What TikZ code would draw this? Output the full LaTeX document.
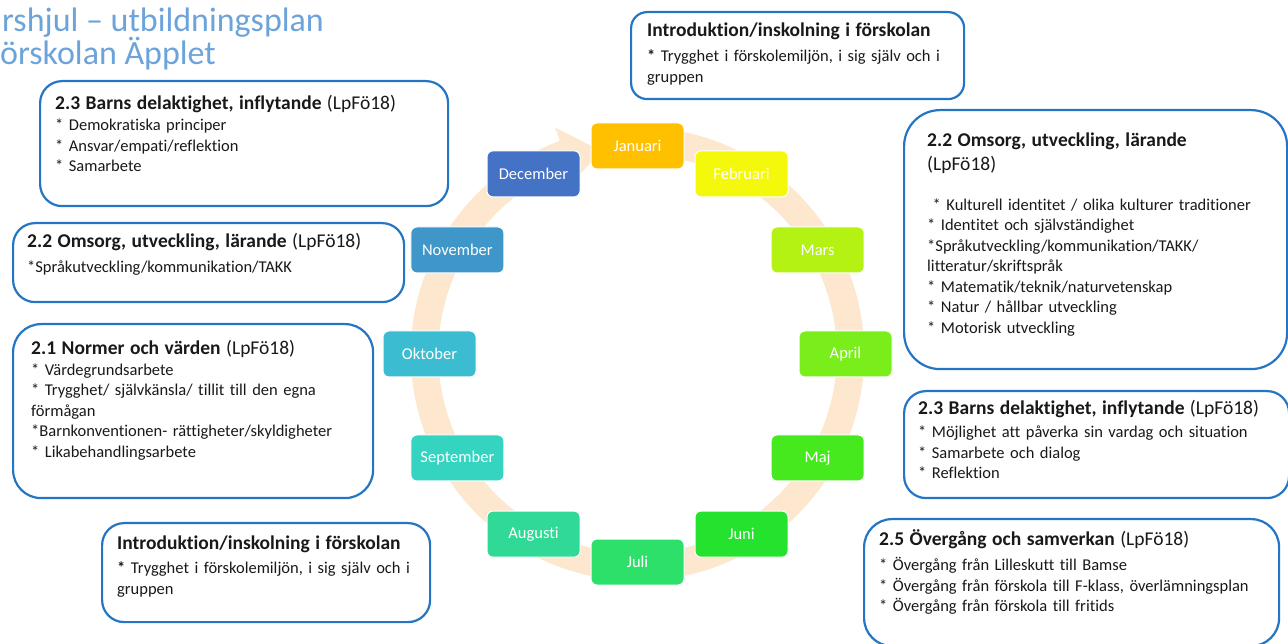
\documentclass[tikz,border=0pt]{standalone}
\usepackage{fontspec}
\setmainfont{Carlito}[Ligatures=NoCommon]
\definecolor{ringc}{RGB}{253,231,206}
\definecolor{boxc}{RGB}{36,118,196}
\definecolor{headc}{RGB}{108,163,218}
\definecolor{janc}{RGB}{255,192,0}
\definecolor{febc}{RGB}{244,248,10}
\definecolor{marc}{RGB}{180,242,20}
\definecolor{aprc}{RGB}{122,238,26}
\definecolor{majc}{RGB}{70,232,30}
\definecolor{junc}{RGB}{36,226,46}
\definecolor{julc}{RGB}{44,224,106}
\definecolor{augc}{RGB}{48,218,150}
\definecolor{sepc}{RGB}{52,212,192}
\definecolor{oktc}{RGB}{59,188,208}
\definecolor{novc}{RGB}{63,150,200}
\definecolor{decc}{RGB}{68,114,196}
\newcommand{\bodyfont}{\fontsize{16.5}{20.5}\selectfont}
\newcommand{\headfont}{\fontsize{19.5}{20.5}\selectfont}

\begin{document}
\begin{tikzpicture}[x=1pt,y=1pt,
  month/.style={draw=white, line width=1pt, rounded corners=6pt, minimum width=93pt,
    minimum height=46pt, text=white, font=\fontsize{16.5}{18}\selectfont, inner sep=0pt},
  infobox/.style={draw=boxc, line width=2.2pt, fill=white, rounded corners=22pt,
    anchor=north west, inner sep=0pt},
  infotext/.style={anchor=base west, align=left, text width=400pt, inner sep=0pt,
    font=\bodyfont, text=black!90}]
\clip (0,0) rectangle (1288,643);

% heading, cut at the left edge
\node [anchor=base west, inner sep=0pt, text=headc, font=\fontsize{34}{36}\selectfont] (titleA) at (2,611) {rshjul -- utbildningsplan};
\node [anchor=base west, inner sep=0pt, text=headc, font=\fontsize{34}{36}\selectfont] (titleB) at (0,578) {örskolan Äpplet};

% the year wheel
\coordinate (hub) at (637.5,289);
\draw [ringc, line width=27.5pt] ([shift={(92:213)}]hub) arc [start angle=92, end angle=-250, radius=213];
\fill [ringc] ([shift={(110:185)}]hub) -- ([shift={(110:241)}]hub) -- ([shift={(100:206)}]hub) -- cycle;

\node [month, fill=janc] (jan) at ([shift={(90:208)}]hub) {Januari};
\node [month, fill=febc] (feb) at ([shift={(60:208)}]hub) {Februari};
\node [month, fill=marc] (mar) at ([shift={(30:208)}]hub) {Mars};
\node [month, fill=aprc] (apr) at ([shift={(0:208)}]hub) {April};
\node [month, fill=majc] (maj) at ([shift={(-30:208)}]hub) {Maj};
\node [month, fill=junc] (jun) at ([shift={(-60:208)}]hub) {Juni};
\node [month, fill=julc] (jul) at ([shift={(-90:208)}]hub) {Juli};
\node [month, fill=augc] (aug) at ([shift={(-120:208)}]hub) {Augusti};
\node [month, fill=sepc] (sep) at ([shift={(-150:208)}]hub) {September};
\node [month, fill=oktc] (okt) at ([shift={(180:208)}]hub) {Oktober};
\node [month, fill=novc] (nov) at ([shift={(150:208)}]hub) {November};
\node [month, fill=decc] (dec) at ([shift={(120:208)}]hub) {December};

% boxes round the wheel
\node [infobox, minimum width=408pt, minimum height=125pt] (delaktighetA) at (39,563) {};
\node [infobox, minimum width=391pt, minimum height=79pt] (omsorgA) at (12,421) {};
\node [infobox, minimum width=360pt, minimum height=174pt, rounded corners=28pt] (normer) at (12,320) {};
\node [infobox, minimum width=328pt, minimum height=99pt] (introA) at (101,121) {};
\node [infobox, minimum width=333pt, minimum height=87pt, rounded corners=16pt] (introB) at (630,632) {};
\node [infobox, minimum width=383pt, minimum height=259pt, rounded corners=36pt] (omsorgB) at (903,534) {};
\node [infobox, minimum width=385pt, minimum height=107pt] (delaktighetB) at (903,253) {};
\node [infobox, minimum width=415pt, minimum height=127pt, rounded corners=28pt] (overgang) at (863,125) {};

\node [infotext] (delaktighetAtext) at (55,533) {{\headfont\textbf{2.3 Barns delaktighet, inflytande} (LpFö18)}\\[0.5pt]
{*} Demokratiska principer\\
{*} Ansvar/empati/reflektion\\
{*} Samarbete};
\node [infotext] (omsorgAtext) at (27,395) {{\headfont\textbf{2.2 Omsorg, utveckling, lärande} (LpFö18)}\\[4pt]
{*}Språkutveckling/kommunikation/TAKK};
\node [infotext] (normertext) at (31,288) {{\headfont\textbf{2.1 Normer och värden} (LpFö18)}\\
{*} Värdegrundsarbete\\
{*} Trygghet/ självkänsla/ tillit till den egna\\
förmågan\\
{*}Barnkonventionen- rättigheter/skyldigheter\\
{*} Likabehandlingsarbete};
\node [infotext] (introAtext) at (117,93) {{\headfont\textbf{Introduktion/inskolning i förskolan}}\\[3.5pt]
\textbf{*} Trygghet i förskolemiljön, i sig själv och i\\
gruppen};
\node [infotext] (introBtext) at (647,606) {{\headfont\textbf{Introduktion/inskolning i förskolan}}\\[4.5pt]
\textbf{*} Trygghet i förskolemiljön, i sig själv och i\\
gruppen};
\node [infotext] (omsorgBtext) at (927,496) {{\headfont\textbf{2.2 Omsorg, utveckling, lärande}}\\[3pt]
{\headfont(LpFö18)}\\[19.5pt]
\ {*} Kulturell identitet / olika kulturer traditioner\\
{*} Identitet och självständighet\\
{*}Språkutveckling/kommunikation/TAKK/\\
litteratur/skriftspråk\\
{*} Matematik/teknik/naturvetenskap\\
{*} Natur / hållbar utveckling\\
{*} Motorisk utveckling};
\node [infotext] (delaktighetBtext) at (918,228) {{\headfont\textbf{2.3 Barns delaktighet, inflytande} (LpFö18)}\\[2.5pt]
{*} Möjlighet att påverka sin vardag och situation\\
{*} Samarbete och dialog\\
{*} Reflektion};
\node [infotext] (overgangtext) at (879,98) {{\headfont\textbf{2.5 Övergång och samverkan} (LpFö18)}\\[5pt]
{*} Övergång från Lilleskutt till Bamse\\
{*} Övergång från förskola till F-klass, överlämningsplan\\
{*} Övergång från förskola till fritids};
\end{tikzpicture}
\end{document}
